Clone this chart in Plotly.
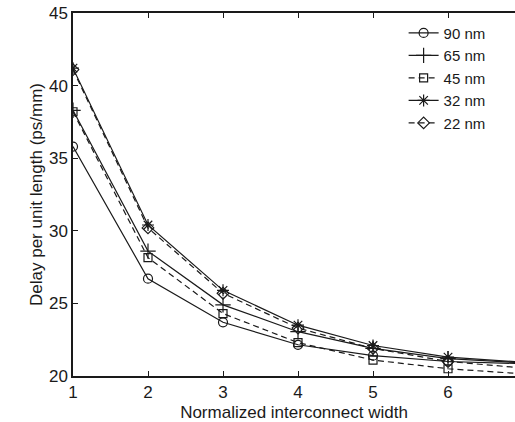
import plotly.graph_objects as go

# Normalized interconnect width (x) and delay per unit length (ps/mm) per technology node
width = [1, 2, 3, 4, 5, 6, 7]
delay_90nm = [35.8, 26.7, 23.7, 22.15, 21.4, 21.0, 20.85]
delay_65nm = [38.3, 28.6, 24.9, 23.05, 21.9, 21.2, 20.9]
delay_45nm = [38.2, 28.15, 24.3, 22.3, 21.1, 20.5, 20.15]
delay_32nm = [41.2, 30.4, 25.9, 23.5, 22.1, 21.3, 20.95]
delay_22nm = [41.1, 30.2, 25.7, 23.3, 21.9, 21.0, 20.55]

x_ticks = [1, 2, 3, 4, 5, 6]
y_ticks = [20, 25, 30, 35, 40, 45]

series = [
    ("90 nm", delay_90nm, "circle-open", "solid", 9),
    ("65 nm", delay_65nm, "cross-thin-open", "solid", 11),
    ("45 nm", delay_45nm, "square-open", "6px,4px", 8),
    ("32 nm", delay_32nm, "asterisk-open", "solid", 10),
    ("22 nm", delay_22nm, "diamond-open", "6px,4px", 9),
]

ink = "#1a1a1a"
fig = go.Figure()
for name, ys, sym, dash, size in series:
    fig.add_trace(go.Scatter(
        x=width, y=ys, name=name, mode="lines+markers",
        line=dict(color=ink, width=1.2, dash=dash),
        marker=dict(symbol=sym, size=size, color=ink,
                    line=dict(color=ink, width=1.2)),
    ))

font = "Liberation Sans, Arial, Helvetica, sans-serif"
fig.update_layout(
    width=515, height=422,
    margin=dict(l=73, r=0, t=13, b=46),
    paper_bgcolor="white", plot_bgcolor="white",
    font=dict(family=font, color=ink, size=17),
    showlegend=True,
    legend=dict(x=0.748, y=0.99, xanchor="left", yanchor="top",
                bgcolor="rgba(0,0,0,0)", borderwidth=0,
                font=dict(size=15, color=ink), tracegroupgap=0,
                itemwidth=30),
    xaxis=dict(
        range=[1, 6.893], tickvals=x_ticks, ticks="inside", ticklen=5,
        tickcolor=ink, showline=True, linecolor=ink, linewidth=1.5,
        mirror="ticks", showgrid=False, zeroline=False,
        title=dict(text="Normalized interconnect width", standoff=6,
                   font=dict(size=17)),
        tickfont=dict(size=17),
    ),
    yaxis=dict(
        range=[20, 45], tickvals=y_ticks, ticks="inside", ticklen=5,
        tickcolor=ink, showline=True, linecolor=ink, linewidth=1.5,
        showgrid=False, zeroline=False,
        title=dict(text="Delay per unit length (ps/mm)", standoff=2,
                   font=dict(size=17)),
        tickfont=dict(size=17),
    ),
)

fig.write_html("out.html")
